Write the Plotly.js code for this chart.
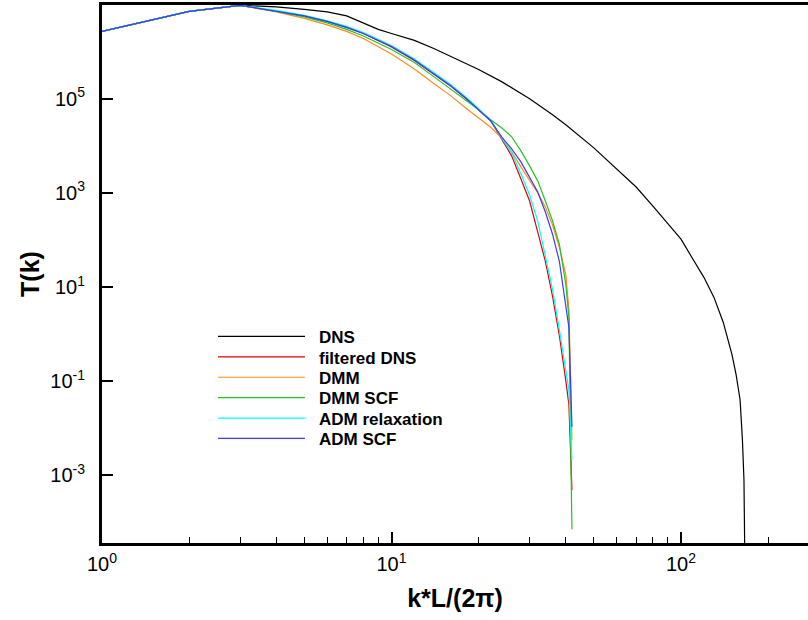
<!DOCTYPE html>
<html>
<head>
<meta charset="utf-8">
<script src="https://cdn.plot.ly/plotly-3.0.1.min.js"></script>
<style>html,body{margin:0;padding:0;background:#fff}</style>
</head>
<body>
<div id="chart" style="width:808px;height:620px"></div>
<script>
// wavenumbers
const kDNS = [1,2,3,4,5,6,7,8,9,10,12,14,16,18,20,24,30,36,40,50,60,70,80,90,100,110,120,130,140,150,155,160,163,165,167];
const tDNS = [2.69e6,7.16e6,9.62e6,8.93e6,7.91e6,6.98e6,5.74e6,3.97e6,2.96e6,2.43e6,1.73e6,1.16e6,7.87e5,5.58e5,4.15e5,2.30e5,1.0e5,4.56e4,2.79e4,9.02e3,3.21e3,1.33e3,523,227,104,38.7,16.0,6.00,1.76,0.366,0.137,0.0401,0.00564,7.91e-4,1e-6];

const kLES = [1,2,3,4,5,6,7,8,10,12,14,16,18,20,22,24,26,28,30,32,34,36,38,40,41,42];
const tFiltered = [2.69e6,7.16e6,9.62e6,7.34e6,5.74e6,4.38e6,3.27e6,2.43e6,1.25e6,6.46e5,3.33e5,1.85e5,1.03e5,5.83e4,3.40e4,1.40e4,6.10e3,1.97e3,668,146,35.1,6.3,0.929,0.102,0.0314,4.84e-4];
const tDMM = [2.69e6,7.16e6,9.62e6,6.98e6,5.08e6,3.69e6,2.69e6,1.90e6,8.85e5,4.26e5,2.10e5,1.16e5,6.43e4,3.94e4,2.47e4,1.47e4,7.41e3,3.55e3,1.87e3,991,498,206,69.8,18.6,3.33,0.00564];
const tDMMSCF = [2.69e6,7.16e6,9.62e6,7.16e6,5.47e6,4.07e6,2.96e6,2.15e6,1.11e6,5.86e5,2.94e5,1.63e5,9.53e4,5.83e4,3.57e4,2.41e4,1.55e4,7.78e3,3.73e3,1.79e3,668,251,80.9,11.4,2.25,7.13e-5];
const tADMrel = [2.69e6,7.16e6,9.62e6,7.52e6,5.89e6,4.49e6,3.43e6,2.55e6,1.35e6,6.95e5,3.58e5,1.99e5,1.10e5,6.12e4,3.40e4,1.47e4,7.06e3,2.52e3,898,251,42.7,8.89,1.25,0.175,0.0656,0.00211];
const tADMSCF = [2.69e6,7.16e6,9.62e6,7.34e6,5.74e6,4.38e6,3.27e6,2.43e6,1.28e6,6.62e5,3.41e5,1.89e5,1.05e5,5.83e4,3.40e4,1.55e4,8.59e3,4.54e3,2.17e3,1.04e3,390,132,35.1,4.26,1.38,0.0107];

const names = ['DNS','filtered DNS','DMM','DMM SCF','ADM relaxation','ADM SCF'];
const colors = ['#000000','#e00000','#ff8c1a','#22c322','#00ffff','#3a3aff'];
const xs = [kDNS,kLES,kLES,kLES,kLES,kLES];
const ys = [tDNS,tFiltered,tDMM,tDMMSCF,tADMrel,tADMSCF];

const xTickVals = [1,10,100];
const xTickText = ['10<sup>0</sup>','10<sup>1</sup>','10<sup>2</sup>'];
const yTickVals = [1e-3,1e-1,10,1e3,1e5];
const yTickText = ['10<sup>-3</sup>','10<sup>-1</sup>','10<sup>1</sup>','10<sup>3</sup>','10<sup>5</sup>'];

const traces = names.map((n,i)=>({
  x: xs[i], y: ys[i], name: n, type:'scatter', mode:'lines',
  line:{color:colors[i], width:1.2}
}));

const font = {family:'"Liberation Sans", Arial, sans-serif', color:'#000'};
const layout = {
  width:808, height:620,
  margin:{l:102, r:0, t:5, b:77},
  paper_bgcolor:'#fff', plot_bgcolor:'#fff',
  font: Object.assign({size:16}, font),
  showlegend:true,
  legend:{
    x:0.1572, y:0.4165, xanchor:'left', yanchor:'top',
    bgcolor:'rgba(0,0,0,0)', borderwidth:0,
    font: Object.assign({size:17, weight:'bold'}, font),
    itemwidth:96
  },
  xaxis:{
    type:'log', range:[0, 2.4387],
    showline:true, linewidth:3, linecolor:'#000', mirror:true,
    showgrid:false, zeroline:false,
    ticks:'inside', ticklen:11, tickwidth:2, tickcolor:'#000',
    tickmode:'array', tickvals:xTickVals, ticktext:xTickText,
    tickfont: Object.assign({size:20}, font),
    ticklabelstandoff:1,
    minor:{ticks:'inside', ticklen:6, tickwidth:1, tickcolor:'#000', dtick:'D1', showgrid:false},
    title:{text:'<b>k*L/(2π)</b>', font:Object.assign({size:25}, font), standoff:16}
  },
  yaxis:{
    type:'log', range:[-4.44, 6.99],
    showline:true, linewidth:3, linecolor:'#000', mirror:false,
    showgrid:false, zeroline:false,
    ticks:'inside', ticklen:11, tickwidth:2, tickcolor:'#000',
    tickmode:'array', tickvals:yTickVals, ticktext:yTickText,
    tickfont: Object.assign({size:20}, font),
    ticklabelstandoff:10,
    title:{text:'<b>T(k)</b>', font:Object.assign({size:25}, font), standoff:4}
  }
};

Plotly.newPlot('chart', traces, layout, {displayModeBar:false, staticPlot:true}).then(gd=>{
  gd.querySelectorAll('.legendlines path').forEach(p=>p.setAttribute('d','M5,0h87'));
  const items = gd.querySelectorAll('.legend .traces');
  let x0 = 0, y0 = null;
  items.forEach((g,i)=>{
    const m = /translate\(([-\d.]+),\s*([-\d.]+)\)/.exec(g.getAttribute('transform')||'');
    if (m && y0 === null) { x0 = parseFloat(m[1]); y0 = parseFloat(m[2]); }
    if (y0 !== null) g.setAttribute('transform', 'translate(' + x0 + ',' + (y0 + i*20.4) + ')');
  });
});
</script>
</body>
</html>
